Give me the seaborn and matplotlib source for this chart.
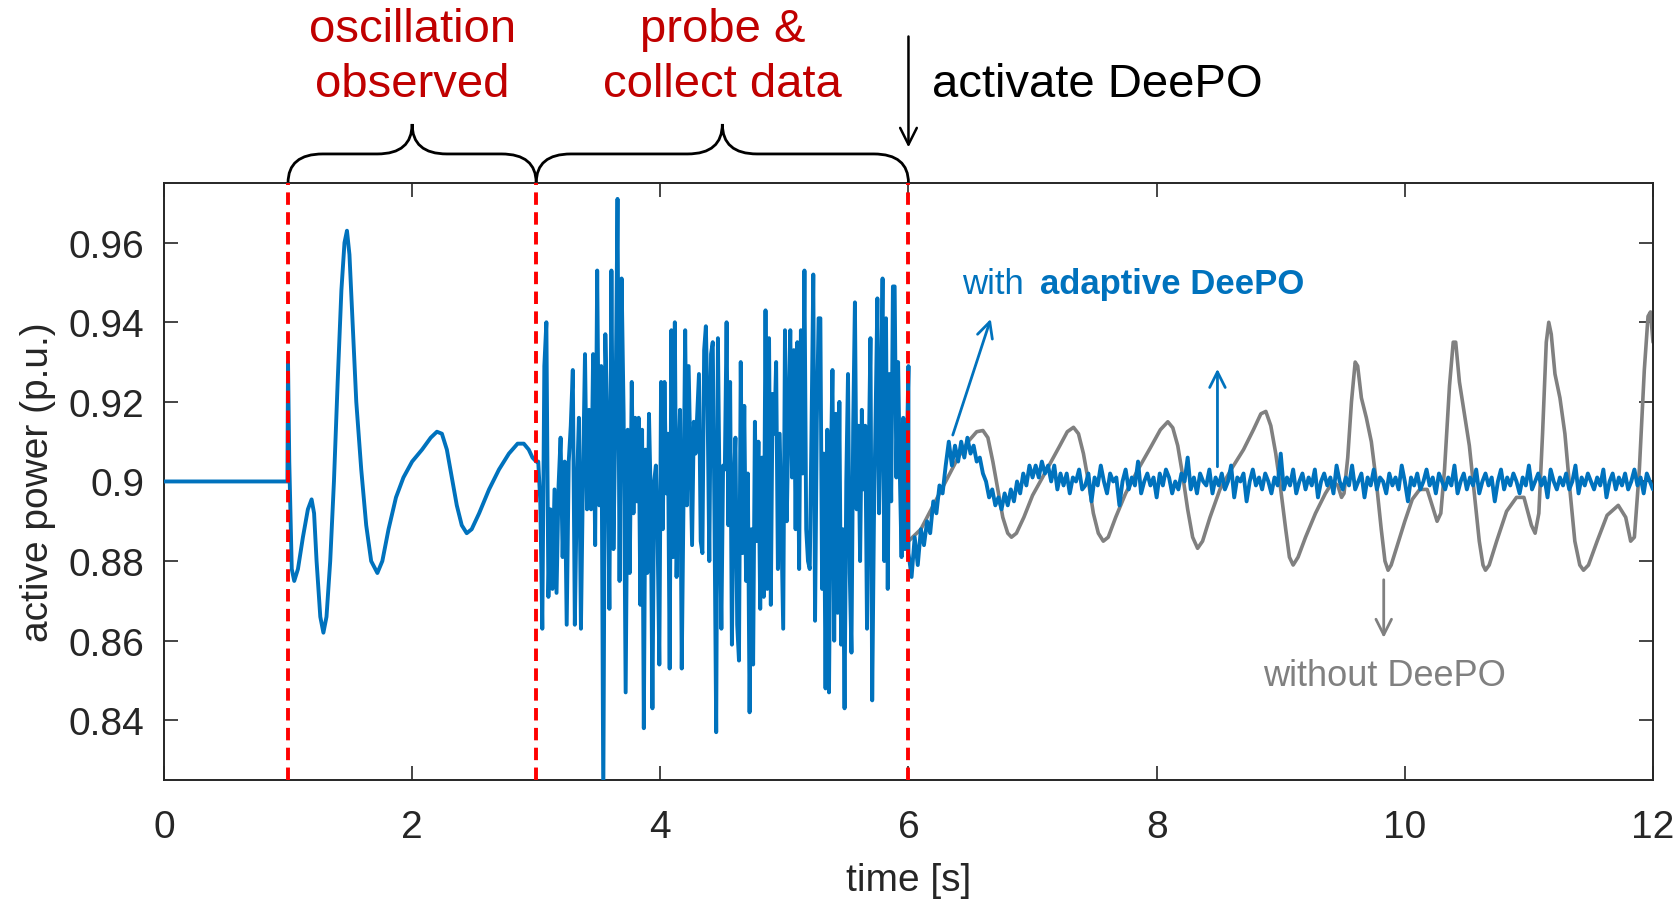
import numpy as np
import pandas as pd
import matplotlib
matplotlib.use('Agg')
import matplotlib.pyplot as plt
import matplotlib.transforms as mtransforms
from matplotlib.path import Path
from matplotlib.patches import PathPatch
import seaborn as sns

BLUE = '#0072BD'
GRAY = '#808080'
RED = '#FF0000'
DARKRED = '#C00000'

# ---- data ----
# steady state + oscillation after the disturbance (1 s .. 3 s)
t_osc = [0.0, 0.995, 1.0, 1.01, 1.03, 1.05, 1.08, 1.12, 1.16, 1.19, 1.21, 1.23, 1.26, 1.285,
         1.31, 1.34, 1.37, 1.40, 1.43, 1.455, 1.475, 1.495, 1.52, 1.55, 1.59, 1.63, 1.67,
         1.72, 1.76, 1.81, 1.87, 1.93, 2.0, 2.08, 2.15, 2.20, 2.24, 2.28, 2.32, 2.36, 2.40,
         2.44, 2.48, 2.54, 2.62, 2.70, 2.78, 2.85, 2.90, 2.94, 2.97]
p_osc = [0.9, 0.9, 0.930, 0.905, 0.878, 0.875, 0.878, 0.886, 0.893, 0.8955, 0.892, 0.880, 0.866, 0.862,
         0.866, 0.880, 0.900, 0.925, 0.948, 0.960, 0.963, 0.957, 0.940, 0.920, 0.903, 0.889, 0.880,
         0.877, 0.880, 0.888, 0.896, 0.901, 0.905, 0.908, 0.911, 0.9125, 0.912, 0.908, 0.901, 0.894, 0.889,
         0.887, 0.888, 0.892, 0.898, 0.903, 0.907, 0.9095, 0.9095, 0.908, 0.906]

# probing phase (3 s .. 6 s), four consecutive stretches
probe_edges = [3.0, 3.77, 4.52, 5.29, 6.0]
probe_a = [0.905, 0.905, 0.895, 0.863, 0.929, 0.940, 0.871, 0.893, 0.873, 0.898, 0.872, 0.899,
           0.911, 0.881, 0.905, 0.864, 0.905, 0.914, 0.928, 0.864, 0.898, 0.916, 0.863, 0.901,
           0.932, 0.893, 0.918, 0.893, 0.932, 0.884, 0.953, 0.894, 0.929, 0.820, 0.937, 0.913,
           0.868, 0.953, 0.883, 0.917, 0.971, 0.875, 0.951, 0.917, 0.847, 0.913, 0.877]
probe_b = [0.925, 0.892, 0.916, 0.895, 0.916, 0.869, 0.913, 0.838, 0.908, 0.877, 0.917, 0.896,
           0.843, 0.900, 0.904, 0.886, 0.854, 0.925, 0.888, 0.925, 0.897, 0.912, 0.853, 0.938,
           0.881, 0.940, 0.876, 0.903, 0.918, 0.853, 0.894, 0.938, 0.894, 0.929, 0.906, 0.884,
           0.915, 0.907, 0.917, 0.927, 0.885, 0.882, 0.933, 0.939, 0.919, 0.880, 0.932, 0.935,
           0.891, 0.837, 0.936, 0.894, 0.863, 0.904]
probe_c = [0.903, 0.940, 0.889, 0.925, 0.859, 0.898, 0.911, 0.864, 0.855, 0.930, 0.882, 0.919,
           0.875, 0.902, 0.842, 0.888, 0.854, 0.915, 0.885, 0.910, 0.868, 0.906, 0.871, 0.943,
           0.873, 0.936, 0.869, 0.922, 0.912, 0.930, 0.878, 0.912, 0.888, 0.863, 0.938, 0.890,
           0.916, 0.938, 0.901, 0.933, 0.888, 0.935, 0.878, 0.938, 0.902, 0.953, 0.888, 0.880,
           0.878, 0.913, 0.952, 0.865, 0.915, 0.941]
probe_d = [0.941, 0.873, 0.907, 0.848, 0.913, 0.847, 0.902, 0.928, 0.860, 0.917, 0.867, 0.920,
           0.859, 0.888, 0.843, 0.900, 0.927, 0.877, 0.857, 0.914, 0.945, 0.893, 0.914, 0.880,
           0.918, 0.898, 0.914, 0.863, 0.906, 0.936, 0.845, 0.890, 0.917, 0.946, 0.892, 0.917,
           0.951, 0.880, 0.941, 0.873, 0.927, 0.895, 0.949, 0.949, 0.901, 0.930, 0.902, 0.881,
           0.916, 0.883, 0.906, 0.929]

# with adaptive DeePO, 6 s .. 12 s, sampled every 25 ms
post_span = [6.0, 12.0]
p_post = [0.882, 0.876, 0.886, 0.879, 0.888, 0.884, 0.890, 0.887, 0.895, 0.892,
          0.899, 0.897, 0.904, 0.910, 0.904, 0.909, 0.905, 0.910, 0.906, 0.911,
          0.907, 0.909, 0.905, 0.906, 0.902, 0.900, 0.896, 0.898, 0.894, 0.896,
          0.893, 0.897, 0.894, 0.898, 0.895, 0.900, 0.897, 0.902, 0.899, 0.904,
          0.901, 0.904, 0.901, 0.905, 0.902, 0.904, 0.900, 0.904, 0.898, 0.902, 0.899,
          0.902, 0.897, 0.901, 0.900, 0.903, 0.898, 0.899, 0.902, 0.895, 0.901,
          0.899, 0.904, 0.900, 0.897, 0.902, 0.900, 0.901, 0.894, 0.900, 0.903,
          0.898, 0.901, 0.899, 0.905, 0.897, 0.900, 0.902, 0.899, 0.901, 0.896,
          0.902, 0.899, 0.903, 0.901, 0.897, 0.900, 0.898, 0.902, 0.900, 0.906,
          0.898, 0.901, 0.897, 0.902, 0.900, 0.899, 0.903, 0.897, 0.901, 0.899,
          0.902, 0.898, 0.900, 0.904, 0.896, 0.901, 0.900, 0.902, 0.895, 0.900,
          0.903, 0.899, 0.901, 0.898, 0.902, 0.900, 0.897, 0.901, 0.899, 0.907,
          0.898, 0.901, 0.899, 0.903, 0.897, 0.900, 0.902, 0.898, 0.901, 0.899,
          0.903, 0.896, 0.900, 0.902, 0.899, 0.901, 0.897, 0.904, 0.900, 0.898,
          0.901, 0.899, 0.904, 0.898, 0.900, 0.902, 0.896, 0.901, 0.899, 0.903,
          0.898, 0.901, 0.900, 0.897, 0.902, 0.899, 0.901, 0.898, 0.904, 0.900,
          0.895, 0.901, 0.899, 0.902, 0.898, 0.900, 0.903, 0.899, 0.901, 0.897,
          0.902, 0.900, 0.898, 0.901, 0.899, 0.904, 0.897, 0.900, 0.902, 0.898,
          0.901, 0.899, 0.903, 0.897, 0.900, 0.902, 0.899, 0.901, 0.895, 0.900,
          0.903, 0.898, 0.901, 0.899, 0.902, 0.900, 0.897, 0.901, 0.899, 0.904,
          0.898, 0.900, 0.902, 0.899, 0.901, 0.896, 0.903, 0.900, 0.898, 0.901,
          0.899, 0.902, 0.898, 0.900, 0.904, 0.897, 0.901, 0.899, 0.902, 0.900,
          0.898, 0.901, 0.899, 0.903, 0.896, 0.900, 0.902, 0.898, 0.901, 0.899,
          0.902, 0.898, 0.900, 0.903, 0.899, 0.901, 0.897, 0.902, 0.900, 0.898]

# without DeePO (grey), 6 s .. 12 s
t_gray = [6.00, 6.10, 6.20, 6.30, 6.40, 6.48, 6.55, 6.60, 6.64, 6.68, 6.72, 6.76, 6.80, 6.83,
          6.87, 6.93, 7.00, 7.08, 7.15, 7.22, 7.28, 7.33, 7.37, 7.41, 7.45, 7.49, 7.53, 7.57,
          7.61, 7.67, 7.75, 7.85, 7.95, 8.03, 8.09, 8.13, 8.17, 8.21, 8.25, 8.29, 8.33, 8.37,
          8.43, 8.51, 8.60, 8.70, 8.78, 8.84, 8.88, 8.92, 8.96, 9.00, 9.04, 9.07, 9.10, 9.14,
          9.20, 9.28, 9.36, 9.42, 9.46, 9.49, 9.51, 9.54, 9.57, 9.60, 9.62, 9.65, 9.69, 9.73,
          9.77, 9.81, 9.84, 9.865, 9.89, 9.94, 10.00, 10.06, 10.12, 10.18, 10.23, 10.26, 10.29,
          10.32, 10.36, 10.39, 10.41, 10.44, 10.48, 10.52, 10.56, 10.60, 10.63, 10.65, 10.68,
          10.74, 10.82, 10.90, 10.96, 11.02, 11.05, 11.08, 11.11, 11.14, 11.16, 11.18, 11.21,
          11.25, 11.29, 11.33, 11.37, 11.41, 11.44, 11.48, 11.55, 11.63, 11.72, 11.78, 11.82,
          11.85, 11.89, 11.93, 11.96, 11.98, 12.0]
p_gray = [0.885, 0.888, 0.894, 0.900, 0.906, 0.910, 0.9125, 0.9128, 0.911, 0.905, 0.898, 0.891, 0.887, 0.886,
          0.887, 0.891, 0.8965, 0.901, 0.905, 0.909, 0.9125, 0.9136, 0.912, 0.907, 0.900, 0.892, 0.887, 0.885,
          0.886, 0.891, 0.897, 0.903, 0.9085, 0.913, 0.915, 0.9135, 0.909, 0.9015, 0.893, 0.886, 0.8832, 0.885,
          0.891, 0.898, 0.903, 0.908, 0.913, 0.917, 0.9176, 0.914, 0.907, 0.898, 0.888, 0.881, 0.879, 0.881,
          0.886, 0.892, 0.897, 0.900, 0.899, 0.896, 0.897, 0.906, 0.920, 0.930, 0.929, 0.921, 0.916, 0.910,
          0.900, 0.888, 0.880, 0.8777, 0.879, 0.884, 0.890, 0.8955, 0.898, 0.898, 0.893, 0.890, 0.892,
          0.903, 0.924, 0.935, 0.935, 0.925, 0.917, 0.909, 0.897, 0.885, 0.879, 0.8777, 0.879,
          0.885, 0.8925, 0.896, 0.896, 0.889, 0.887, 0.892, 0.912, 0.935, 0.940, 0.937, 0.927,
          0.921, 0.912, 0.898, 0.885, 0.879, 0.8777, 0.879, 0.885, 0.8915, 0.894, 0.891, 0.885,
          0.886, 0.903, 0.928, 0.9415, 0.9426, 0.935]

events = [1, 3, 6]
phase_labels = ['oscillation\nobserved', 'probe &\ncollect data']
xticks = [0, 2, 4, 6, 8, 10, 12]
yticks = [0.84, 0.86, 0.88, 0.90, 0.92, 0.94, 0.96]
ytick_labels = ['0.84', '0.86', '0.88', '0.9', '0.92', '0.94', '0.96']

# ---- assemble the series ----
parts = [pd.DataFrame({'t': t_osc, 'p': p_osc})]
for i, vals in enumerate([probe_a, probe_b, probe_c, probe_d]):
    tt = np.linspace(probe_edges[i], probe_edges[i + 1], len(vals), endpoint=(i == 3))
    parts.append(pd.DataFrame({'t': tt, 'p': vals}))
parts.append(pd.DataFrame({'t': np.linspace(post_span[0], post_span[1], len(p_post)), 'p': p_post}))
blue = pd.concat(parts, ignore_index=True)
gray = pd.DataFrame({'t': t_gray, 'p': p_gray})

sns.set_style('ticks')
plt.rcParams['font.family'] = ['Liberation Sans', 'DejaVu Sans']

fig = plt.figure(figsize=(16.78, 9.04), dpi=100)
ax = fig.add_axes([0.0977, 0.1361, 0.8874, 0.6604])

sns.lineplot(data=gray, x='t', y='p', ax=ax, color=GRAY, lw=2.6, estimator=None, sort=False, zorder=2)
sns.lineplot(data=blue, x='t', y='p', ax=ax, color=BLUE, lw=2.8, estimator=None, sort=False, zorder=3)

for ev in events:
    ax.axvline(ev, color=RED, lw=2.8, ls=(0, (3.2, 1.9)), zorder=4)

ax.set_xlim(0, 12)
ax.set_ylim(0.825, 0.975)
ax.set_xticks(xticks, labels=[str(x) for x in xticks])
ax.set_yticks(yticks, labels=ytick_labels)
ax.tick_params(direction='in', top=True, right=True, length=10, width=1.2,
               labelsize=28, colors='#262626', pad=14)
ax.tick_params(axis='x', pad=21)
for s in ax.spines.values():
    s.set_color('#262626')
    s.set_linewidth(1.4)
ax.set_xlabel('time [s]', fontsize=28, color='#262626', labelpad=12)
ax.set_ylabel('active power (p.u.)', fontsize=28, color='#262626', labelpad=9)

# ---- braces and phase labels above the axes ----
trans = mtransforms.blended_transform_factory(ax.transData, ax.transAxes)
yb, ym, yt = 1.0, 1.0486, 1.0988
r = 0.28
for (x0, x1), label in zip(zip(events[:-1], events[1:]), phase_labels):
    xm = (x0 + x1) / 2
    verts = [(x0, yb), (x0, ym), (x0 + r, ym), (xm - r, ym), (xm, ym), (xm, yt),
             (xm, ym), (xm + r, ym), (x1 - r, ym), (x1, ym), (x1, yb)]
    codes = [Path.MOVETO, Path.CURVE3, Path.CURVE3, Path.LINETO, Path.CURVE3, Path.CURVE3,
             Path.CURVE3, Path.CURVE3, Path.LINETO, Path.CURVE3, Path.CURVE3]
    ax.add_patch(PathPatch(Path(verts, codes), fill=False, lw=2, color='black',
                           transform=trans, clip_on=False))
    ax.text(xm, 1.212, label, transform=trans, ha='center', va='center',
            fontsize=34, color=DARKRED, linespacing=1.32)

ax.annotate('', xy=(events[-1], 1.055), xytext=(events[-1], 1.25),
            xycoords=trans, textcoords=trans,
            arrowprops=dict(arrowstyle='->', color='black', lw=1.8, mutation_scale=30))
ax.text(6.19, 1.166, 'activate DeePO', transform=trans, ha='left', va='center',
        fontsize=34, color='black')

# ---- curve annotations ----
ax.text(6.43, 0.9497, 'with', ha='left', va='center', fontsize=25, color=BLUE)
ax.text(7.06, 0.9497, 'adaptive DeePO', ha='left', va='center', fontsize=25,
        color=BLUE, fontweight='bold')
ax.annotate('', xy=(6.67, 0.9415), xytext=(6.35, 0.911),
            arrowprops=dict(arrowstyle='->', color=BLUE, lw=2, mutation_scale=28))
ax.annotate('', xy=(8.49, 0.929), xytext=(8.49, 0.903),
            arrowprops=dict(arrowstyle='->', color=BLUE, lw=2, mutation_scale=28))
ax.annotate('', xy=(9.83, 0.860), xytext=(9.83, 0.876),
            arrowprops=dict(arrowstyle='->', color=GRAY, lw=2, mutation_scale=28))
ax.text(9.84, 0.8513, 'without DeePO', ha='center', va='center', fontsize=26, color=GRAY)

fig.savefig('out.png', dpi=100)
